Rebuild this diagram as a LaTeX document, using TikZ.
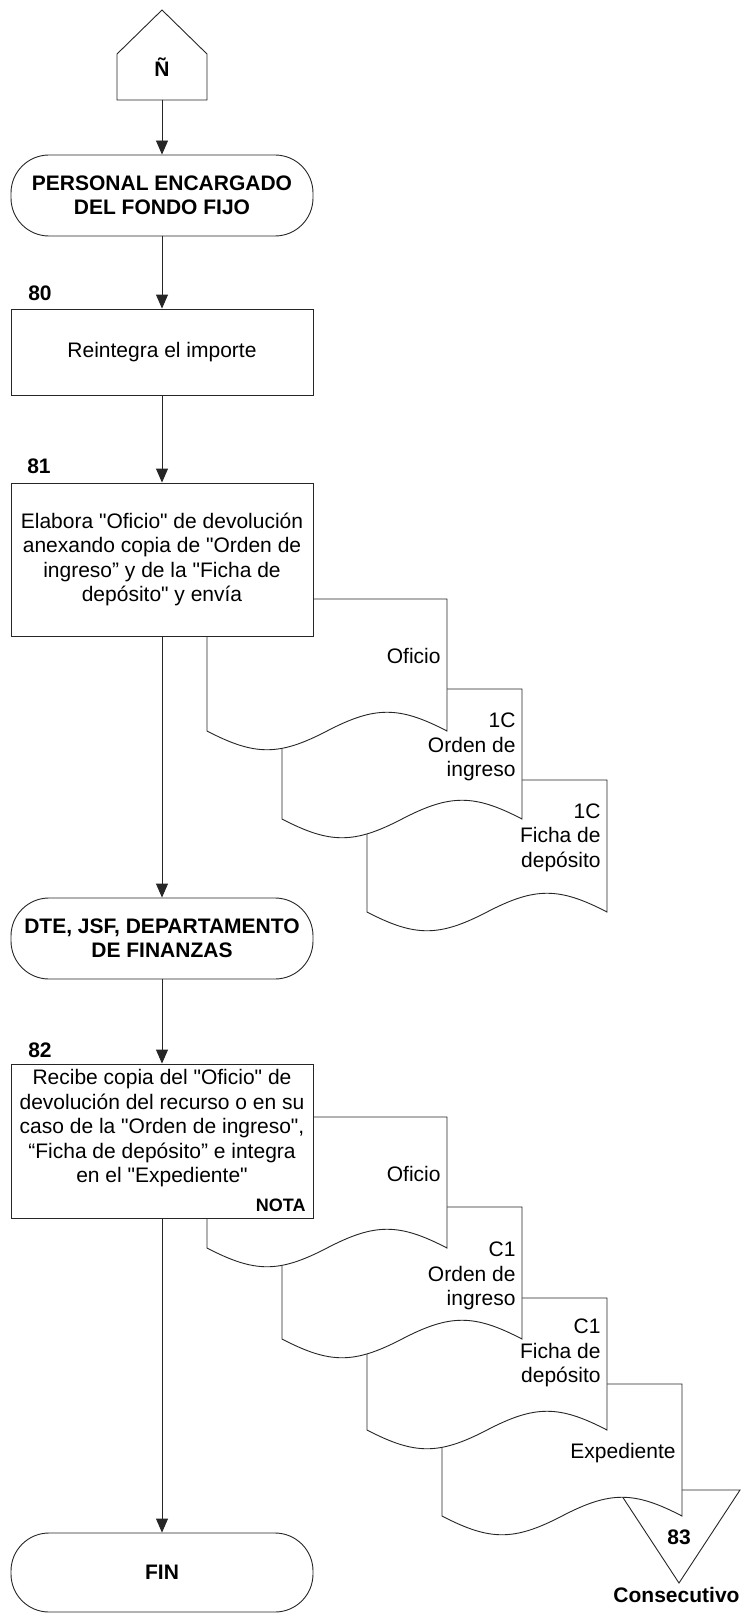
\documentclass[tikz,border=0pt]{standalone}
\usepackage{fontspec}
\setmainfont{Liberation Sans}[Ligatures=TeXOff]
\usetikzlibrary{arrows.meta,calc}
\newcommand\myfs{\fontsize{21}{24.5}\selectfont}
\newcommand\mynotafs{\fontsize{18}{20}\selectfont}
\newcommand\docshape[3]{%
  \draw[docline] (#1,#2) -- ({#1+240},#2) -- ({#1+240},#3)
    .. controls ({#1+192},{#3-25}) and ({#1+168},{#3-25}) .. ({#1+120},#3)
    .. controls ({#1+72},{#3+25}) and ({#1+48},{#3+25}) .. (#1,#3) -- cycle;}
\begin{document}
\begin{tikzpicture}[x=1pt,y=-1pt,
  line width=0.9pt,
  docline/.style={draw=black!85,fill=white},
  proc/.style={draw=black!85,fill=white,rectangle,minimum width=302pt,inner sep=2pt,align=center,font=\myfs},
  term/.style={draw=black!85,fill=white,rectangle,rounded corners=38pt,minimum width=302pt,minimum height=81pt,inner sep=2pt,align=center,font=\myfs\bfseries},
  lbl/.style={inner sep=0pt,font=\myfs\bfseries},
  doctxt/.style={inner sep=0pt,anchor=east,align=right,font=\myfs},
  arr/.style={draw=black!85,-{Triangle[length=14pt,width=12pt]}}]
\useasboundingbox (0,0) rectangle (743,1613);
\fill[white] (0,0) rectangle (743,1613);

% pentagon connector
\draw[draw=black!85,fill=white] (117,100) -- (117,54) -- (162,10) -- (207,54) -- (207,100) -- cycle;
\node[lbl] (pent) at (162,67) {Ñ};
\coordinate (pentbot) at (162,100);

% terminators and processes
\node[term] (t1) at (162,195.5) {PERSONAL ENCARGADO\\DEL FONDO FIJO};
\node[proc,minimum height=86pt] (b80) at (162,352) {Reintegra el importe};
\node[lbl] (n80) at (40,293) {80};

% documents group 1 (drawn back to front)
\docshape{367}{780}{912}
\docshape{282}{689}{819}
\docshape{207}{599}{731}
\node[doctxt] (g1d1) at (441,656) {Oficio};
\node[doctxt] (g1d2) at (516,747) {1C\\Orden de\\ingreso};
\node[doctxt] (g1d3) at (601,837.5) {1C\\Ficha de\\depósito};

\node[proc,minimum height=153pt] (b81) at (162,559.5) {Elabora "Oficio" de devolución\\anexando copia de "Orden de\\ingreso” y de la "Ficha de\\depósito" y envía};
\node[lbl] (n81) at (39,466.7) {81};

\node[term] (t2) at (162,938.5) {DTE, JSF, DEPARTAMENTO\\DE FINANZAS};

% consecutive triangle (behind documents)
\draw[draw=black!85,fill=white] (618,1490) -- (740,1490) -- (679,1583) -- cycle;
\node[lbl] (n83) at (679,1537) {83};
\node[lbl] (cons) at (676.5,1595) {Consecutivo};

% documents group 2
\docshape{442}{1384}{1516}
\docshape{367}{1298}{1430}
\docshape{282}{1207}{1339}
\docshape{207}{1117}{1248}
\node[doctxt] (g2d1) at (441,1174) {Oficio};
\node[doctxt] (g2d2) at (516,1276) {C1\\Orden de\\ingreso};
\node[doctxt] (g2d3) at (601,1353) {C1\\Ficha de\\depósito};
\node[doctxt] (g2d4) at (676,1453) {Expediente};

\node[proc,minimum height=154pt] (b82) at (162,1141) {};
\node[inner sep=0pt,align=center,font=\myfs] (b82t) at (162,1128.5) {Recibe copia del "Oficio" de\\devolución del recurso o en su\\caso de la "Orden de ingreso",\\“Ficha de depósito” e integra\\en el "Expediente"};
\node[inner sep=0pt,anchor=east,font=\mynotafs\bfseries] (nota) at (306,1205.7) {NOTA};
\node[lbl] (n82) at (40,1050) {82};

\node[term,minimum height=79pt] (t3) at (162,1572.5) {FIN};

% connectors
\draw[arr] (pentbot) -- (t1.north);
\draw[arr] (t1.south) -- (b80.north);
\draw[arr] (b80.south) -- (b81.north);
\draw[arr] (b81.south) -- (t2.north);
\draw[arr] (t2.south) -- (b82.north);
\draw[arr] (b82.south) -- (t3.north);
\end{tikzpicture}
\end{document}
